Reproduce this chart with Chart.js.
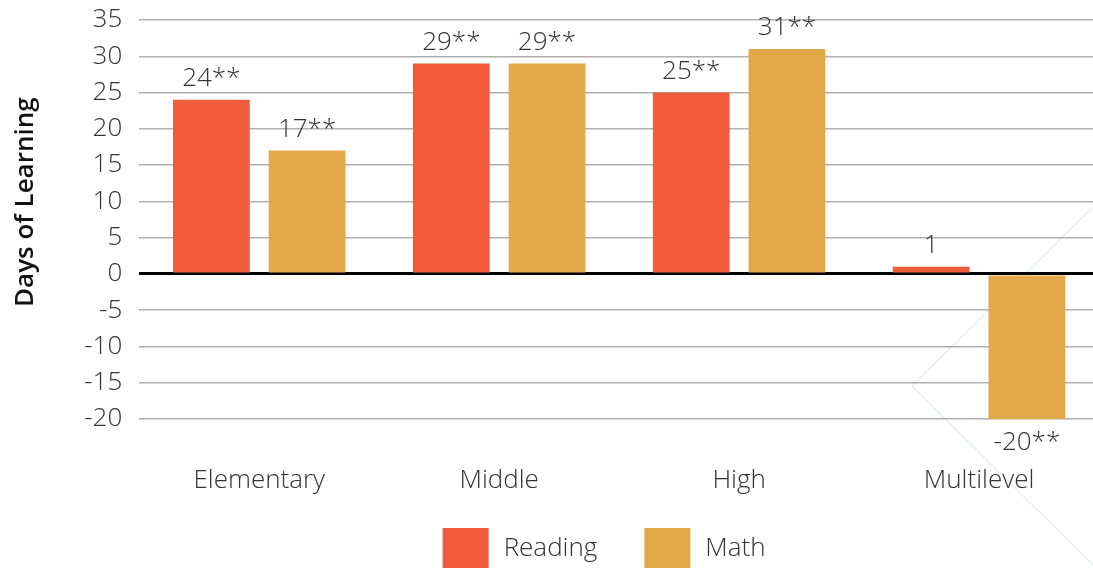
<!DOCTYPE html>
<html>
<head>
<meta charset="utf-8">
<script src="https://cdn.jsdelivr.net/npm/chart.js@4/dist/chart.umd.min.js"></script>
<style>
html,body{margin:0;padding:0;background:#fff;overflow:hidden;}
#wrap{width:1093px;height:573px;position:relative;overflow:hidden;}
canvas{display:block;}
</style>
</head>
<body>
<div id="wrap"><canvas id="c" width="1099" height="573"></canvas></div>
<script>
const categories = ["Elementary", "Middle", "High", "Multilevel"];
const readingValues = [24, 29, 25, 1];
const mathValues = [17, 29, 31, -20];
const readingLabels = ["24**", "29**", "25**", "1"];
const mathLabels = ["17**", "29**", "31**", "-20**"];
const yTicks = [35, 30, 25, 20, 15, 10, 5, 0, -5, -10, -15, -20];

const FONT = "'Open Sans', sans-serif";
const TEXT = "#333333";

// faint decorative watermark behind the plot
const watermarkPlugin = {
  id: 'watermark',
  beforeDraw(chart) {
    const ctx = chart.ctx;
    ctx.save();
    ctx.strokeStyle = '#e3f1f1';
    ctx.lineWidth = 1.5;
    ctx.beginPath();
    ctx.moveTo(1093, 207);
    ctx.lineTo(912, 386);
    ctx.lineTo(1093, 565);
    ctx.stroke();
    ctx.restore();
  }
};

const labelPlugin = {
  id: 'barLabels',
  afterDatasetsDraw(chart) {
    const ctx = chart.ctx;
    const sets = [readingLabels, mathLabels];
    ctx.save();
    ctx.font = "300 26px " + FONT;
    ctx.fillStyle = TEXT;
    ctx.textAlign = 'center';
    chart.data.datasets.forEach((ds, di) => {
      const meta = chart.getDatasetMeta(di);
      meta.data.forEach((bar, i) => {
        const v = ds.data[i];
        if (v >= 0) {
          ctx.textBaseline = 'bottom';
          ctx.fillText(sets[di][i], bar.x, bar.y - 8);
        } else {
          ctx.textBaseline = 'top';
          ctx.fillText(sets[di][i], bar.x, bar.y + 11);
        }
      });
    });
    ctx.restore();
  }
};

// legend drawn from the chart's datasets
const legendPlugin = {
  id: 'bottomLegend',
  afterDraw(chart) {
    const ctx = chart.ctx;
    const boxW = 46, boxH = 40, textGap = 15, itemGap = 47;
    ctx.save();
    ctx.font = "300 26px " + FONT;
    const items = chart.data.datasets.map(ds => ({ text: ds.label, color: ds.backgroundColor, w: ctx.measureText(ds.label).width }));
    const total = items.reduce((s, it) => s + boxW + textGap + it.w, 0) + itemGap * (items.length - 1);
    const area = chart.chartArea;
    let x = (area.left + area.right) / 2 - 15 - total / 2;
    const top = area.bottom + 109;
    items.forEach(it => {
      ctx.fillStyle = it.color;
      ctx.fillRect(x, top, boxW, boxH);
      ctx.fillStyle = TEXT;
      ctx.textAlign = 'left';
      ctx.textBaseline = 'middle';
      ctx.fillText(it.text, x + boxW + textGap, top + boxH / 2 + 1);
      x += boxW + textGap + it.w + itemGap;
    });
    ctx.restore();
  }
};

new Chart(document.getElementById('c'), {
  type: 'bar',
  data: {
    labels: categories,
    datasets: [
      { label: 'Reading', data: readingValues, backgroundColor: '#F05C3B' },
      { label: 'Math', data: mathValues, backgroundColor: '#E3A848' }
    ]
  },
  options: {
    responsive: false,
    animation: false,
    devicePixelRatio: 1,
    layout: { padding: { top: 20, right: 0, left: 10, bottom: 78 } },
    datasets: { bar: { categoryPercentage: 0.798, barPercentage: 0.802 } },
    plugins: {
      tooltip: { enabled: false },
      legend: { display: false }
    },
    scales: {
      x: {
        grid: { display: false, drawTicks: false },
        border: { display: false },
        afterFit(scale) { scale.height = 76; },
        ticks: { color: TEXT, padding: 46, autoSkip: false, maxRotation: 0, font: { family: FONT, size: 26, weight: '300' } }
      },
      y: {
        min: -20,
        max: 35,
        afterBuildTicks(scale) { scale.ticks = yTicks.map(v => ({ value: v })); },
        afterFit(scale) { scale.paddingTop = 0; scale.paddingBottom = 0; },
        grid: {
          drawTicks: false,
          color: ctx => ctx.tick && ctx.tick.value === 0 ? '#000000' : '#b0b0b0',
          lineWidth: ctx => ctx.tick && ctx.tick.value === 0 ? 3 : 1.5
        },
        border: { display: false },
        ticks: { color: TEXT, padding: 17, autoSkip: false, font: { family: FONT, size: 26, weight: '300' } },
        title: {
          display: true,
          text: '\u2003\u2009\u2009Days of Learning',
          color: '#111111',
          padding: { top: 0, bottom: 26 },
          font: { family: FONT, size: 26, weight: '600' }
        }
      }
    }
  },
  plugins: [watermarkPlugin, labelPlugin, legendPlugin]
});
</script>
</body>
</html>
